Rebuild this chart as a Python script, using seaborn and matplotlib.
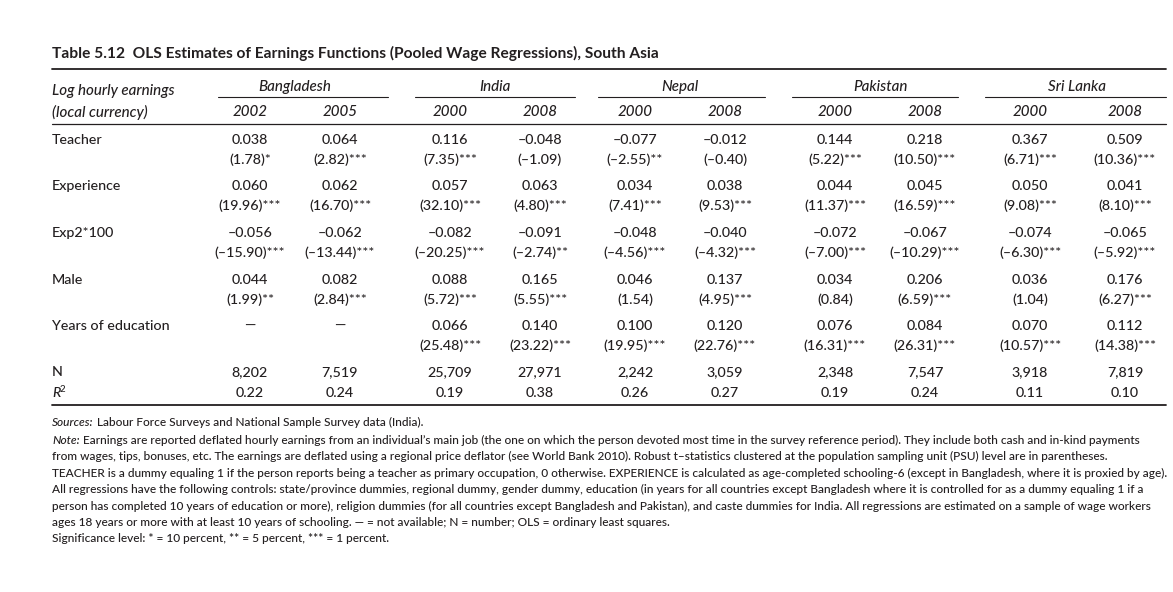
import matplotlib
matplotlib.use("Agg")
import matplotlib.pyplot as plt
import seaborn as sns

# ---- table data ----
title = "Table 5.12  OLS Estimates of Earnings Functions (Pooled Wage Regressions), South Asia"
countries = ["Bangladesh", "India", "Nepal", "Pakistan", "Sri Lanka"]
years = ["2002", "2005", "2000", "2008", "2000", "2008", "2000", "2008", "2000", "2008"]

teacher_coef = [0.038, 0.064, 0.116, -0.048, -0.077, -0.012, 0.144, 0.218, 0.367, 0.509]
teacher_t = [1.78, 2.82, 7.35, -1.09, -2.55, -0.40, 5.22, 10.50, 6.71, 10.36]
teacher_sig = [1, 3, 3, 0, 2, 0, 3, 3, 3, 3]

exper_coef = [0.060, 0.062, 0.057, 0.063, 0.034, 0.038, 0.044, 0.045, 0.050, 0.041]
exper_t = [19.96, 16.70, 32.10, 4.80, 7.41, 9.53, 11.37, 16.59, 9.08, 8.10]
exper_sig = [3, 3, 3, 3, 3, 3, 3, 3, 3, 3]

exp2_coef = [-0.056, -0.062, -0.082, -0.091, -0.048, -0.040, -0.072, -0.067, -0.074, -0.065]
exp2_t = [-15.90, -13.44, -20.25, -2.74, -4.56, -4.32, -7.00, -10.29, -6.30, -5.92]
exp2_sig = [3, 3, 3, 2, 3, 3, 3, 3, 3, 3]

male_coef = [0.044, 0.082, 0.088, 0.165, 0.046, 0.137, 0.034, 0.206, 0.036, 0.176]
male_t = [1.99, 2.84, 5.72, 5.55, 1.54, 4.95, 0.84, 6.59, 1.04, 6.27]
male_sig = [2, 3, 3, 3, 0, 3, 0, 3, 0, 3]

educ_coef = [None, None, 0.066, 0.140, 0.100, 0.120, 0.076, 0.084, 0.070, 0.112]
educ_t = [None, None, 25.48, 23.22, 19.95, 22.76, 16.31, 26.31, 10.57, 14.38]
educ_sig = [0, 0, 3, 3, 3, 3, 3, 3, 3, 3]

n_obs = [8202, 7519, 25709, 27971, 2242, 3059, 2348, 7547, 3918, 7819]
r2 = [0.22, 0.24, 0.19, 0.38, 0.26, 0.27, 0.19, 0.24, 0.11, 0.10]

sources = "Labour Force Surveys and National Sample Survey data (India)."
note_lines = [
    "Earnings are reported deflated hourly earnings from an individual\u2019s main job (the one on which the person devoted most time in the survey reference period). They include both cash and in-kind payments",
    "from wages, tips, bonuses, etc. The earnings are deflated using a regional price deflator (see World Bank 2010). Robust t\u2013statistics clustered at the population sampling unit (PSU) level are in parentheses.",
    "TEACHER is a dummy equaling 1 if the person reports being a teacher as primary occupation, 0 otherwise. EXPERIENCE is calculated as age-completed schooling-6 (except in Bangladesh, where it is proxied by age).",
    "All regressions have the following controls: state/province dummies, regional dummy, gender dummy, education (in years for all countries except Bangladesh where it is controlled for as a dummy equaling 1 if a",
    "person has completed 10 years of education or more), religion dummies (for all countries except Bangladesh and Pakistan), and caste dummies for India. All regressions are estimated on a sample of wage workers",
    "ages 18 years or more with at least 10 years of schooling. \u2014 = not available; N = number; OLS = ordinary least squares.",
    "Significance level: * = 10 percent, ** = 5 percent, *** = 1 percent.",
]


def fmt_num(v, nd):
    if v is None:
        return "\u2014"
    return f"{v:.{nd}f}".replace("-", "\u2013")


def fmt_t(v, s):
    if v is None:
        return ""
    return "(" + fmt_num(v, 2) + ")" + "*" * s


sns.set_theme(style="white")
plt.rcParams["font.family"] = ["Lato", "DejaVu Sans"]

fig = plt.figure(figsize=(11.73, 5.92), dpi=100)
ax = fig.add_axes([0, 0, 1, 1])
ax.set_xlim(0, 1173)
ax.set_ylim(592, 0)
ax.axis("off")

fs = 10.3      # upright table text
fsi = 10.9     # italic headers
wt = "medium"
col_x = [250, 340, 450, 540, 635, 725, 835, 925, 1030, 1125]
left = 52
right = 1166
ink = "#231f20"

ax.text(left, 53, title, fontsize=11.2, fontweight="bold", va="center", color=ink)
ax.plot([left, right], [69, 69], color=ink, lw=1.3)

# header
ax.text(left, 91, "Log hourly earnings", fontsize=fsi, style="italic", weight=wt, va="center", color=ink)
ax.text(left, 112, "(local currency)", fontsize=fsi, style="italic", weight=wt, va="center", color=ink)
spans = [(218, 388), (415, 575), (598, 765), (792, 958), (985, right)]
for i, c in enumerate(countries):
    cx = (col_x[2 * i] + col_x[2 * i + 1]) / 2
    ax.text(cx, 87, c, fontsize=fsi, style="italic", weight=wt, ha="center", va="center", color=ink)
    ax.plot(spans[i], [97, 97], color=ink, lw=0.8)
for x, y in zip(col_x, years):
    ax.text(x, 112, y, fontsize=fsi, style="italic", weight=wt, ha="center", va="center", color=ink)
ax.plot([left, right], [124, 124], color=ink, lw=0.9)

# body
rows = [
    ("Teacher", teacher_coef, teacher_t, teacher_sig, 140),
    ("Experience", exper_coef, exper_t, exper_sig, 186),
    ("Exp2*100", exp2_coef, exp2_t, exp2_sig, 233),
    ("Male", male_coef, male_t, male_sig, 280),
    ("Years of education", educ_coef, educ_t, educ_sig, 326),
]
for label, coefs, ts, sigs, y in rows:
    ax.text(left, y, label, fontsize=fs, weight=wt, va="center", color=ink)
    for x, c, t, s in zip(col_x, coefs, ts, sigs):
        ax.text(x, y, fmt_num(c, 3), fontsize=fs, weight=wt, ha="center", va="center", color=ink)
        ax.text(x, y + 20, fmt_t(t, s), fontsize=fs, weight=wt, ha="center", va="center", color=ink)

ax.text(left, 372, "N", fontsize=fs, weight=wt, va="center", color=ink)
for x, n in zip(col_x, n_obs):
    ax.text(x, 372, f"{n:,}", fontsize=fs, weight=wt, ha="center", va="center", color=ink)
ax.text(left, 393, "R", fontsize=fs, style="italic", weight=wt, va="center", color=ink)
ax.text(left + 8, 389, "2", fontsize=7, weight=wt, va="center", color=ink)
for x, r in zip(col_x, r2):
    ax.text(x, 393, fmt_num(r, 2), fontsize=fs, weight=wt, ha="center", va="center", color=ink)
ax.plot([left, right], [405, 405], color=ink, lw=1.3)

# footnotes
nfs = 8.6
t1 = ax.text(left, 422, "Sources:", fontsize=nfs, style="italic", weight=wt, va="center", color=ink)
ax.annotate(" " + sources, xy=(1, 0), xycoords=t1, va="bottom", fontsize=nfs, weight=wt, color=ink)
t2 = ax.text(left, 440, "Note:", fontsize=nfs, style="italic", weight=wt, va="center", color=ink)
ax.annotate(" " + note_lines[0], xy=(1, 0), xycoords=t2, va="bottom", fontsize=nfs, weight=wt, color=ink)
for k, line in enumerate(note_lines[1:]):
    ax.text(left, 456.5 + 16.5 * k, line, fontsize=nfs, weight=wt, va="center", color=ink)

fig.savefig("out.png", dpi=100, facecolor="white")
